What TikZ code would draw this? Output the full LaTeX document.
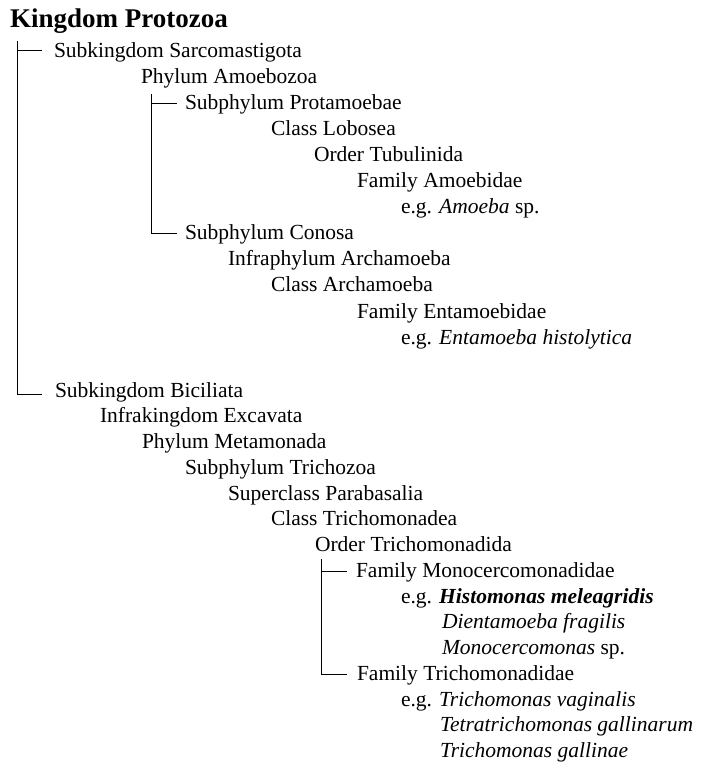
\documentclass[tikz,border=0pt]{standalone}
\usepackage{fontspec}
\setmainfont{Liberation Serif}
\newcommand\rankfont{\fontsize{21.5}{26}\selectfont}
\newcommand\titlefont{\fontsize{27}{30}\selectfont\bfseries}
\begin{document}
\begin{tikzpicture}[x=1pt,y=-1pt,
  every node/.style={inner sep=0pt, outer sep=0pt, anchor=base west},
  rank/.style={font=\rankfont},
  titlestyle/.style={font=\titlefont},
  link/.style={line width=1pt, black}]
\useasboundingbox (0,0) rectangle (702,763);

\node[titlestyle] (title) at (10,27) {Kingdom Protozoa};

\node[rank] (r1)  at (54,57)    {Subkingdom Sarcomastigota};
\node[rank] (r2)  at (141,83.1) {Phylum Amoebozoa};
\node[rank] (r3)  at (185,109.2){Subphylum Protamoebae};
\node[rank] (r4)  at (271,135.3){Class Lobosea};
\node[rank] (r5)  at (314,161.4){Order Tubulinida};
\node[rank] (r6)  at (357,187.5){Family Amoebidae};
\node[rank] (r7)  at (401,213.6){e.g. \textit{Amoeba} sp.};
\node[rank] (r8)  at (185,239.7){Subphylum Conosa};
\node[rank] (r9)  at (228,265.8){Infraphylum Archamoeba};
\node[rank] (r10) at (271,291.9){Class Archamoeba};
\node[rank] (r11) at (357,318)  {Family Entamoebidae};
\node[rank] (r12) at (401,344.1){e.g. \textit{Entamoeba histolytica}};

\node[rank] (r13) at (55,397)    {Subkingdom Biciliata};
\node[rank] (r14) at (100,422.75){Infrakingdom Excavata};
\node[rank] (r15) at (142,448.5) {Phylum Metamonada};
\node[rank] (r16) at (185,474.25){Subphylum Trichozoa};
\node[rank] (r17) at (228,500)   {Superclass Parabasalia};
\node[rank] (r18) at (271,525.75){Class Trichomonadea};
\node[rank] (r19) at (315,551.5) {Order Trichomonadida};
\node[rank] (r20) at (356,577.25){Family Monocercomonadidae};
\node[rank] (r21) at (401,603)   {e.g. \textbf{\textit{Histomonas meleagridis}}};
\node[rank] (r22) at (442,628.75){\textit{Dientamoeba fragilis}};
\node[rank] (r23) at (442,654.5) {\textit{Monocercomonas} sp.};
\node[rank] (r24) at (357,680.25){Family Trichomonadidae};
\node[rank] (r25) at (401,706)   {e.g. \textit{Trichomonas vaginalis}};
\node[rank] (r26) at (440,731.75){\textit{Tetratrichomonas gallinarum}};
\node[rank] (r27) at (440,757.5) {\textit{Trichomonas gallinae}};

% bracket coordinates
\coordinate (kTop) at (17,41);
\coordinate (k1) at (17,50);   \coordinate (k1e) at (42,50);
\coordinate (k2) at (17,394);  \coordinate (k2e) at (42,394);

\coordinate (pTop) at (151,94);
\coordinate (p1) at (151,103); \coordinate (p1e) at (177,103);
\coordinate (p2) at (151,233); \coordinate (p2e) at (177,233);

\coordinate (oTop) at (321,559);
\coordinate (o1) at (321,571); \coordinate (o1e) at (347,571);
\coordinate (o2) at (321,674); \coordinate (o2e) at (347,674);

\draw[link] (kTop) -- (k2) -- (k2e);
\draw[link] (k1) -- (k1e);
\draw[link] (pTop) -- (p2) -- (p2e);
\draw[link] (p1) -- (p1e);
\draw[link] (oTop) -- (o2) -- (o2e);
\draw[link] (o1) -- (o1e);
\end{tikzpicture}
\end{document}
